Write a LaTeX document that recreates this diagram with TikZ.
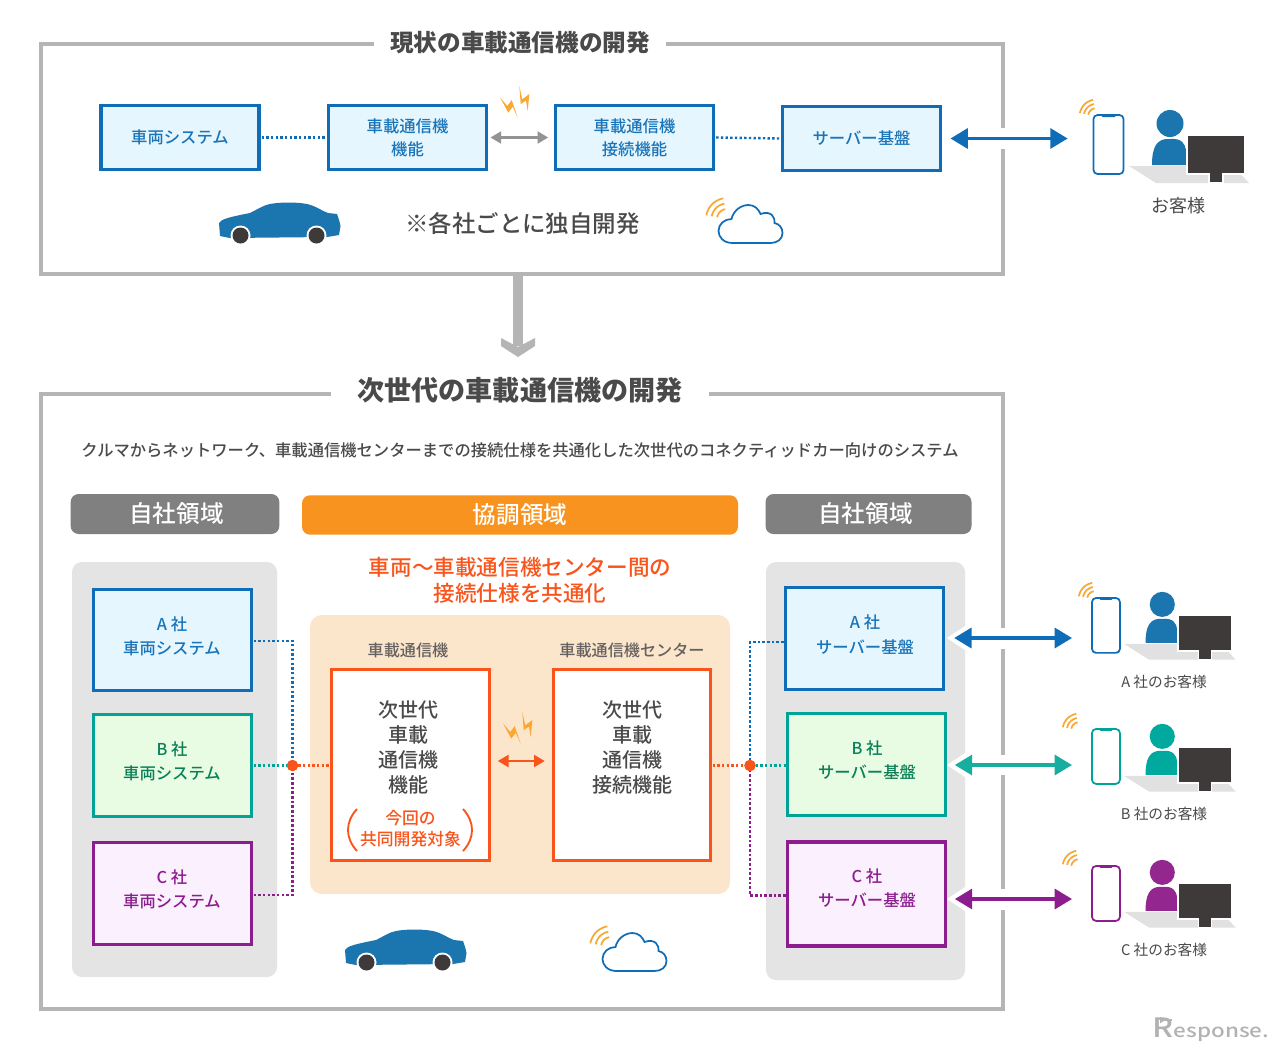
\documentclass[tikz,border=0pt]{standalone}
\usepackage{fontspec}
\usetikzlibrary{arrows.meta}
\setmainfont{Noto Sans CJK JP}
\newfontfamily\medfont{Noto Sans CJK JP Medium}
\definecolor{framegray}{HTML}{B5B5B5}
\definecolor{textgray}{HTML}{4A4A4A}
\definecolor{cblue}{HTML}{0F6DB8}
\definecolor{cbluetext}{HTML}{1A74B8}
\definecolor{cbluefill}{HTML}{E5F6FE}
\definecolor{cteal}{HTML}{00A497}
\definecolor{carrowteal}{HTML}{17AE9F}
\definecolor{cgreentext}{HTML}{0B8058}
\definecolor{cgreenfill}{HTML}{E8FCE3}
\definecolor{cpurple}{HTML}{8C1D8F}
\definecolor{cpurplefill}{HTML}{FBF0FD}
\definecolor{corange}{HTML}{F9541C}
\definecolor{cpanel}{HTML}{E4E4E4}
\definecolor{cwarm}{HTML}{FCE6CB}
\definecolor{chead}{HTML}{808080}
\definecolor{chead2}{HTML}{F7931E}
\definecolor{iconblue}{HTML}{1B75AE}
\definecolor{iconteal}{HTML}{00A99D}
\definecolor{iconpurple}{HTML}{93278F}
\definecolor{wifi}{HTML}{F9A932}
\definecolor{dark}{HTML}{3E3A39}
\definecolor{shadowgray}{HTML}{E1E1E1}
\newcommand\wifiat[3]{% x, y, radius scale
  \foreach \r in {10,15.5,21}{
    \draw[wifi,line width=1.3pt] plot[smooth,domain=100:170,samples=8] ({#1+#3*\r*cos(\x)},{#2-#3*\r*sin(\x)});
  }}
\tikzset{
  x=0.75pt,y=-0.75pt,
  every node/.style={inner sep=0pt,outer sep=0pt,text=textgray},
  frameline/.style={draw=framegray,line width=2.3pt},
  title/.style={font=\bfseries\fontsize{17.7}{20}\selectfont},
  title2/.style={font=\bfseries\fontsize{20.3}{24}\selectfont},
  box/.style={draw=#1,line width=2.3pt,minimum width=118.5pt,align=center,font=\medfont\fontsize{12.25}{17.25}\selectfont},
  bluebox/.style={box=cblue,fill=cbluefill,text=cbluetext},
  greenbox/.style={box=cteal,fill=cgreenfill,text=cgreentext},
  purplebox/.style={box=cpurple,fill=cpurplefill,text=cpurple},
  boxlabel/.style={align=center,font=\medfont\fontsize{12.25}{18.2}\selectfont},
  head/.style={rounded corners=6pt,fill=#1,text=white,font=\medfont\fontsize{17.7}{20}\selectfont},
  panel/.style={fill=cpanel,rounded corners=7.5pt},
  dots/.style={draw=#1,line width=1.8pt,dash pattern=on 1.8pt off 1.7pt},
  twoway/.style={draw=#1,line width=2.4pt,{Triangle[length=13pt,width=15pt,fill=#1]}-{Triangle[length=13pt,width=15pt,fill=#1]}},
  thin2way/.style={draw=#1,line width=1.6pt,{Triangle[length=8pt,width=9pt,fill=#1]}-{Triangle[length=8pt,width=9pt,fill=#1]}},
  jdot/.style={circle,fill=corange,minimum size=8.5pt},
  carshape/.pic={
    \fill[iconblue] (219,223) .. controls (221,219) and (230,217) .. (250,213) .. controls (258,209) and (264,205) .. (270,204)
      .. controls (280,202) and (297,202) .. (307,204) .. controls (316,206) and (322,211) .. (328,213)
      -- (337,214) .. controls (339,220) and (340,222) .. (340.5,226) -- (339,235) -- (327,237) -- (230,238) -- (220,236) -- cycle;
    \fill[white] (240.5,235.5) circle[radius=10] (316.5,235.5) circle[radius=10];
    \fill[dark] (240.5,235.5) circle[radius=8] (316.5,235.5) circle[radius=8];
  },
  cloudshape/.pic={
    \wifiat{727}{219}{1}
    \draw[cblue,line width=1.3pt,fill=white] (732.5,243) .. controls (723.5,243) and (718.5,237) .. (718.5,231)
      .. controls (718.5,224) and (724.5,219) .. (731.5,219) .. controls (733.5,210) and (741.5,205) .. (748.5,205)
      .. controls (754.5,205) and (758.5,209) .. (760.5,214) .. controls (771.5,210) and (775.5,218) .. (774.5,223)
      .. controls (779.5,224) and (782.5,228) .. (782.5,233) .. controls (782.5,239) and (777.5,243) .. (770.5,243) -- cycle;
  },
  pics/phoneicon/.style={code={
    \draw[#1,line width=1.3pt,rounded corners=3pt] (0,0) rectangle (30,59);
    \fill[#1] (7,0) -- (23,0) -- (21,2) -- (9,2) -- cycle;
  }},
  pics/personicon/.style={code={
    \fill[shadowgray] (-59,30) -- (45,30) -- (61,47) -- (-32,47) -- cycle;
    \fill[#1] (-18,-12.5) circle[radius=13.5];
    \fill[#1] (-36,29) .. controls (-36,12) and (-32,2) .. (-18,3) .. controls (-6,2) and (-3,8) .. (-2,14) -- (-2,29) -- cycle;
    \fill[white] (-2,-2) rectangle (58,39);
    \fill[dark] (0,0) rectangle (56,37);
    \fill[white] (20,37) rectangle (36,48);
    \fill[dark] (22,37) rectangle (34,46);
  }},
  pics/bolts/.style={code={
    \fill[wifi] (10,17.3) -- (17.3,26) -- (21.7,20) -- (27.7,37.7) -- (22.7,26.7) -- (18.3,32.7) -- cycle;
    \fill[wifi] (29.3,6) -- (32.3,19.3) -- (39.3,14) -- (37.7,31) -- (36,20.7) -- (30.7,24) -- cycle;
  }},
  tiphalo/.pic={\fill[white] (-9,0) -- (12,-14) -- (12,14) -- cycle;},
}
\begin{document}
\begin{tikzpicture}
\useasboundingbox (0,0) rectangle (1280,1050);
\fill[white] (0,0) rectangle (1280,1050);
% frames
\draw[frameline] (374,44) -- (41,44) -- (41,274) -- (1003,274) -- (1003,44) -- (666,44);
\draw[frameline] (331,394) -- (41,394) -- (41,1009) -- (1003,1009) -- (1003,394) -- (709,394);
\node[title] (t1) at (520,42.5) {現状の車載通信機の開発};
\node[title2] (t2) at (520,390.5) {次世代の車載通信機の開発};
% top row
\node[bluebox,minimum height=48.5pt] (sys0) at (180,137.5) {車両システム};
\node[bluebox,minimum height=48.5pt] (com0) at (407.5,137.5) {車載通信機\\機能};
\node[bluebox,minimum height=48.5pt] (con0) at (634.5,137.5) {車載通信機\\接続機能};
\node[bluebox,minimum height=48.5pt] (srv0) at (861.5,138.5) {サーバー基盤};
\draw[dots=cblue] ([xshift=2pt]sys0.east) -- ([xshift=-1.5pt]com0.west);
\draw[dots=cblue] ([xshift=2pt]con0.east) -- ([xshift=-1.5pt]srv0.west);
\draw[thin2way=gray!85] ([xshift=3pt]com0.east) -- ([xshift=-5.5pt]con0.west);
\pic at (490,80) {bolts};
\coordinate (ph0) at (1093,138.5);
\fill[white] (995,128) rectangle (1011,149);
\draw[twoway=cblue] ([xshift=7.5pt]srv0.east) -- ([xshift=-19pt]ph0);
\pic at (1093.5,115) {phoneicon=cblue};
\wifiat{1096}{116}{0.78}
\pic at (1188,136) {personicon=iconblue};
\node[font=\fontsize{13.5}{16}\selectfont] (cust0) at (1178,205.5) {お客様};
\pic at (0,0) {carshape};
\pic at (0,0) {cloudshape};
\node[font=\medfont\fontsize{17.6}{20}\selectfont] (note0) at (522.5,223.5) {※各社ごとに独自開発};
% big arrow
\coordinate (bigA) at (518,275);
\coordinate (bigB) at (518,346);
\draw[framegray,line width=7.1pt] (bigA) -- (bigB);
\fill[framegray] (501,338) -- (518,347) -- (535,338) -- (535,346) -- (518,357) -- (501,346) -- cycle;
% lower
\node[font=\medfont\fontsize{12.23}{16}\selectfont] (desc) at (520,450.5) {クルマからネットワーク、車載通信機センターまでの接続仕様を共通化した次世代のコネクティッドカー向けのシステム};
\node[head=chead,minimum width=156.5pt,minimum height=30pt] (h1) at (175,514) {\hspace*{2.2pt}自社領域};
\node[head=chead2,minimum width=327pt,minimum height=29.5pt] (h2) at (520,515) {協調領域};
\node[head=chead,minimum width=154.5pt,minimum height=30pt] (h3) at (868.5,514) {自社領域\hspace*{4.5pt}};
\fill[panel] (72,562) rectangle (277,977);
\fill[panel] (766,562) rectangle (965,980);
\node[text=corange,align=center,font=\medfont\fontsize{16.2}{19.7}\selectfont] (lead) at (520,580) {車両〜車載通信機センター間の\\接続仕様を共通化};
\fill[cwarm,rounded corners=9pt] (310,615) rectangle (730,894);
\node[font=\medfont\fontsize{12.1}{16}\selectfont,text=dark!80] (l1) at (408,650) {車載通信機};
\node[font=\medfont\fontsize{12.1}{16}\selectfont,text=dark!80] (l2) at (632,650) {車載通信機センター};
\node[draw=corange,line width=2.3pt,fill=white,minimum width=118pt,minimum height=143pt] (ctrA) at (410.5,765) {};
\node[draw=corange,line width=2.3pt,fill=white,minimum width=118pt,minimum height=143pt] (ctrB) at (632,765) {};
\node[align=center,font=\medfont\fontsize{15}{18.75}\selectfont] (ctrAt) at (408.5,747) {次世代\\車載\\通信機\\機能};
\node[align=center,font=\medfont\fontsize{15}{18.75}\selectfont] (ctrBt) at (632,747) {次世代\\車載\\通信機\\接続機能};
\node[align=center,text=corange,font=\medfont\fontsize{12.6}{16.2}\selectfont] (scope) at (410.5,828.5) {今回の\\共同開発対象};
\draw[corange,line width=1.4pt] (357,809) .. controls (345,822) and (345,838) .. (357,851);
\draw[corange,line width=1.4pt] (463,809) .. controls (475,822) and (475,838) .. (463,851);
\pic at (493,706) {bolts};
\draw[thin2way=corange] ([xshift=6.5pt,yshift=3pt]ctrA.east) -- ([xshift=-6.5pt,yshift=3pt]ctrB.west);
% left boxes
\node[bluebox,minimum height=76pt] (la) at (172.5,640) {};
\node[greenbox,minimum height=76pt] (lb) at (172.5,765.5) {};
\node[purplebox,minimum height=76pt] (lc) at (172.5,893.5) {};
\node[boxlabel,text=cbluetext] (lat) at (172,636) {A 社\\車両システム};
\node[boxlabel,text=cgreentext] (lbt) at (172,761) {B 社\\車両システム};
\node[boxlabel,text=cpurple] (lct) at (172,889) {C 社\\車両システム};
% right boxes
\node[bluebox,minimum height=76pt] (ra) at (864.5,638.5) {};
\node[greenbox,minimum height=76pt] (rb) at (866.5,764.5) {};
\node[purplebox,minimum height=78pt] (rc) at (866.5,894) {};
\node[boxlabel,text=cbluetext] (rat) at (865,634.5) {A 社\\サーバー基盤};
\node[boxlabel,text=cgreentext] (rbt) at (867,760) {B 社\\サーバー基盤};
\node[boxlabel,text=cpurple] (rct) at (867,888) {C 社\\サーバー基盤};
% junctions
\node[jdot] (jl) at (292.5,765.5) {};
\node[jdot] (jr) at (750,765.5) {};
\draw[dots=cblue] ([xshift=1.5pt,yshift=-0.75pt]la.east) -| (jl);
\draw[dots=cteal] ([xshift=1.5pt]lb.east) -- (jl);
\draw[dots=cpurple] ([xshift=1.5pt,yshift=-1pt]lc.east) -| (jl);
\draw[dots=corange] (jl) -- ([xshift=-1.5pt]ctrA.west |- jl);
\draw[dots=corange] ([xshift=1.5pt]ctrB.east |- jr) -- (jr);
\draw[dots=cteal] (jr) -- ([xshift=-1.5pt]rb.west |- jr);
\draw[dots=cblue] ([xshift=-1.5pt,yshift=-2.6pt]ra.west) -| (jr);
\draw[dots=cpurple] ([xshift=-1.5pt,yshift=-1pt]rc.west) -| (jr);
\node[jdot] at (jl) {};
\node[jdot] at (jr) {};
% customers
\coordinate (pa) at (1092,638);
\coordinate (pb) at (1092,765);
\coordinate (pc) at (1092,899);
\fill[white] (995,628) rectangle (1011,649);
\fill[white] (995,755) rectangle (1011,775);
\fill[white] (995,889) rectangle (1011,910);
\pic at (956,638) {tiphalo};
\pic at (956,765) {tiphalo};
\pic at (956,899) {tiphalo};
\draw[twoway=cblue] ([xshift=8pt]ra.east |- pa) -- ([xshift=-15pt]pa);
\draw[twoway=carrowteal] ([xshift=7pt]rb.east |- pb) -- ([xshift=-15pt]pb);
\draw[twoway=cpurple] ([xshift=7pt]rc.east |- pc) -- ([xshift=-15pt]pc);
\pic[scale=.93] at (1092,598) {phoneicon=cblue};
\pic[scale=.93] at (1092,729) {phoneicon=cteal};
\pic[scale=.93] at (1092,866) {phoneicon=cpurple};
\wifiat{1095}{599}{0.78}
\wifiat{1079}{730}{0.78}
\wifiat{1079}{867}{0.78}
\pic[scale=.93] at (1179,616) {personicon=iconblue};
\pic[scale=.93] at (1179,748) {personicon=iconteal};
\pic[scale=.93] at (1179,884) {personicon=iconpurple};
\node[font=\fontsize{11}{14}\selectfont] (ca) at (1164,681.5) {A 社のお客様};
\node[font=\fontsize{11}{14}\selectfont] (cb) at (1164,813.5) {B 社のお客様};
\node[font=\fontsize{11}{14}\selectfont] (cc) at (1164,949.5) {C 社のお客様};
\pic at (126,727) {carshape};
\pic at (-116,728) {cloudshape};
\node[text=gray!60,xscale=1.2,font=\medfont\fontsize{14}{16}\selectfont] (resp) at (1211,1030) {{\fontsize{20}{20}\selectfont R}esponse.};
\draw[gray!60,line width=1.2pt,-{Triangle[length=4pt,width=4.5pt,fill=gray!60,reversed]}] (1172,1020) -- (1160,1020);
\end{tikzpicture}
\end{document}
